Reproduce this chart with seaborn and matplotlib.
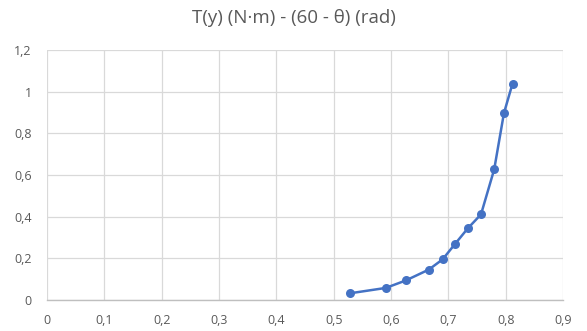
import pandas as pd
import matplotlib
matplotlib.use("Agg")
import matplotlib.pyplot as plt
import seaborn as sns
from matplotlib.ticker import FuncFormatter

# datos
angle = [0.528, 0.591, 0.626, 0.666, 0.690, 0.712, 0.734, 0.757, 0.780, 0.797, 0.812]
torque = [0.032, 0.058, 0.094, 0.146, 0.195, 0.270, 0.344, 0.411, 0.627, 0.897, 1.039]

df = pd.DataFrame({"angle": angle, "torque": torque})

sns.set_style("white")
plt.rcParams["font.family"] = ["Open Sans", "DejaVu Sans"]

fig = plt.figure(figsize=(5.87, 3.31), dpi=100)
ax = fig.add_axes([47 / 587, 31 / 331, (563 - 47) / 587, (300 - 50) / 331])

sns.lineplot(data=df, x="angle", y="torque", ax=ax, color="#4472c4",
             linewidth=1.8, marker="o", markersize=6.5, markeredgewidth=0, sort=False)

ax.set_xlim(0, 0.9)
ax.set_ylim(0, 1.2)
ax.set_xticks([i / 10 for i in range(10)])
ax.set_yticks([i / 10 for i in range(0, 13, 2)])

fmt = FuncFormatter(lambda v, p: f"{v:g}".replace(".", ","))
ax.xaxis.set_major_formatter(fmt)
ax.yaxis.set_major_formatter(fmt)

ax.grid(True, color="#d9d9d9", linewidth=0.9)
ax.set_axisbelow(True)
for s in ["top", "right", "left"]:
    ax.spines[s].set_visible(False)
ax.spines["bottom"].set_color("#bfbfbf")
ax.spines["bottom"].set_linewidth(1.0)

ax.tick_params(axis="both", length=0, labelsize=9, labelcolor="#595959")
ax.tick_params(axis="x", pad=10)
ax.tick_params(axis="y", pad=11)
ax.set_xlabel("")
ax.set_ylabel("")

fig.text(0.5, 1 - 18 / 331, "T(y) (N·m) - (60 - θ) (rad)", ha="center", va="center",
         fontsize=13.5, color="#595959")

fig.savefig("out.png", dpi=100)
